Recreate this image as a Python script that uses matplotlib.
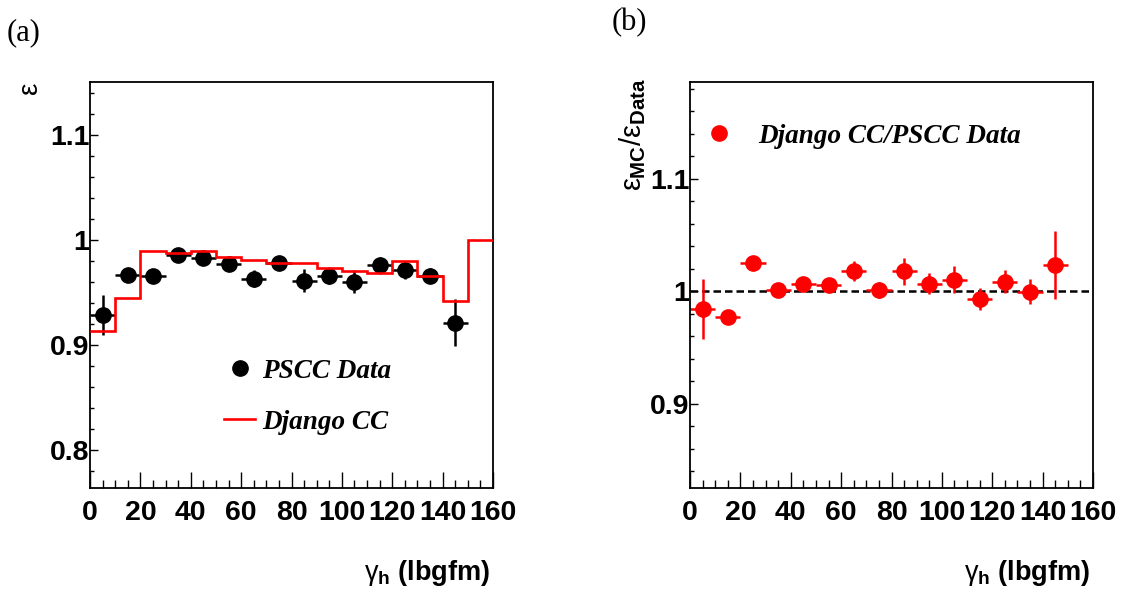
"""Efficiency vs gamma_h: data/MC comparison and ratio"""
import matplotlib
matplotlib.use('Agg')
import matplotlib.pyplot as plt
from matplotlib.ticker import MultipleLocator, FormatStrFormatter

plt.rcParams['font.family'] = 'Liberation Sans'
plt.rcParams['mathtext.fontset'] = 'custom'
plt.rcParams['mathtext.rm'] = 'Liberation Sans'
plt.rcParams['mathtext.it'] = 'Liberation Sans'
plt.rcParams['mathtext.bf'] = 'Liberation Sans:bold'

# bin centres / edges (lbgfm)
x_centers = [5, 15, 25, 35, 45, 55, 65, 75, 85, 95, 105, 115, 125, 135, 145]
x_halfwidth = [5] * 15
bin_edges = [0, 10, 20, 30, 40, 50, 60, 70, 80, 90, 100, 110, 120, 130, 140, 150, 160]

# PSCC data efficiency
data_eff = [0.9286, 0.9667, 0.9651, 0.9857, 0.9825, 0.9771, 0.9629, 0.9778,
            0.9610, 0.9660, 0.9603, 0.9756, 0.9711, 0.9660, 0.9213]
data_err = [0.0187, 0.003, 0.003, 0.002, 0.003, 0.003, 0.008, 0.004,
            0.011, 0.0084, 0.0105, 0.0081, 0.0083, 0.007, 0.0227]

# Django CC efficiency (histogram)
mc_eff = [0.9137, 0.9450, 0.9889, 0.9873, 0.9892, 0.9832, 0.9803, 0.9778,
          0.9778, 0.9727, 0.9705, 0.9683, 0.9794, 0.9651, 0.9419, 1.0]

# ratio MC / data
ratio = [0.9843, 0.9769, 1.0249, 1.0012, 1.0062, 1.0056, 1.0181, 1.0012,
         1.0178, 1.0068, 1.0101, 0.9929, 1.0086, 0.9994, 1.0234]
ratio_err = [0.0264, 0.003, 0.003, 0.003, 0.003, 0.003, 0.0089, 0.007,
             0.012, 0.0096, 0.012, 0.0095, 0.0101, 0.011, 0.03]

W, H = 1123, 594
fig = plt.figure(figsize=(W / 100, H / 100), dpi=100)
ax1 = fig.add_axes([90 / W, 106 / H, 403 / W, 406 / H])
ax2 = fig.add_axes([690 / W, 106 / H, 403 / W, 406 / H])


def style_axis(ax, ylo, yhi):
    ax.set_xlim(0, 160)
    ax.set_ylim(ylo, yhi)
    ax.xaxis.set_major_locator(MultipleLocator(20))
    ax.xaxis.set_minor_locator(MultipleLocator(5))
    ax.yaxis.set_major_locator(MultipleLocator(0.1))
    ax.yaxis.set_minor_locator(MultipleLocator(0.02))
    ax.yaxis.set_major_formatter(FormatStrFormatter('%g'))
    ax.tick_params(which='both', direction='in', top=False, right=False, width=1)
    ax.tick_params(axis='x', which='major', length=11.5, pad=9)
    ax.tick_params(axis='x', which='minor', length=5.5)
    ax.tick_params(axis='y', which='major', length=5.8, pad=0.5)
    ax.tick_params(axis='y', which='minor', length=3)
    for lab in ax.get_xticklabels() + ax.get_yticklabels():
        lab.set_fontsize(20.5)
        lab.set_fontweight('bold')
    for sp in ax.spines.values():
        sp.set_linewidth(1.3)
    ax.text(0.9926, -0.227, r'$\gamma_{\mathbf{h}}$ (lbgfm)', transform=ax.transAxes,
            ha='right', va='baseline', fontsize=19.5, fontweight='bold')


# ---- panel (a)
style_axis(ax1, 0.764, 1.15)
pts = ax1.errorbar(x_centers, data_eff, xerr=x_halfwidth, yerr=data_err, fmt='o',
                   color='black', ms=11, elinewidth=1.8, capsize=0, zorder=2)
hist = ax1.stairs(mc_eff, bin_edges, baseline=None, color='red', lw=1.9, zorder=3)
ax1.legend([pts[0], hist], ['PSCC Data', 'Django CC'], loc='upper left',
           bbox_to_anchor=(0.3325, 0.318), frameon=False, borderpad=0,
           borderaxespad=0, handlelength=1.15, handletextpad=0.25,
           labelspacing=0.95,
           prop={'family': 'Liberation Serif', 'style': 'italic',
                 'weight': 'bold', 'size': 19.5})
ax1.text(-0.146, 1.0, r'$\varepsilon$', transform=ax1.transAxes, rotation=90,
         ha='center', va='top', fontsize=20)

# ---- panel (b)
style_axis(ax2, 0.825, 1.186)
ax2.axhline(1.0, color='black', ls=(0, (3, 1.6)), lw=1.8, zorder=1)
rpts = ax2.errorbar(x_centers, ratio, xerr=x_halfwidth, yerr=ratio_err, fmt='o',
                    color='red', ms=11, elinewidth=1.8, capsize=0, zorder=2)
ax2.legend([rpts[0]], ['Django CC/PSCC Data'], loc='upper left',
           bbox_to_anchor=(0.035, 0.897), frameon=False, borderpad=0,
           borderaxespad=0, handlelength=1.1, handletextpad=0.9,
           prop={'family': 'Liberation Serif', 'style': 'italic',
                 'weight': 'bold', 'size': 19.5})
ax2.text(-0.1427, 1.0099, r'$\varepsilon_{\mathbf{MC}}/\varepsilon_{\mathbf{Data}}$',
         transform=ax2.transAxes, rotation=90, ha='center', va='top', fontsize=21)

fig.text(7 / W, 1 - 32.5 / H, '(a)', ha='left', va='center',
         family='Liberation Serif', fontsize=22)
fig.text(612 / W, 1 - 23 / H, '(b)', ha='left', va='center',
         family='Liberation Serif', fontsize=22)

fig.savefig('out.png', dpi=100)
